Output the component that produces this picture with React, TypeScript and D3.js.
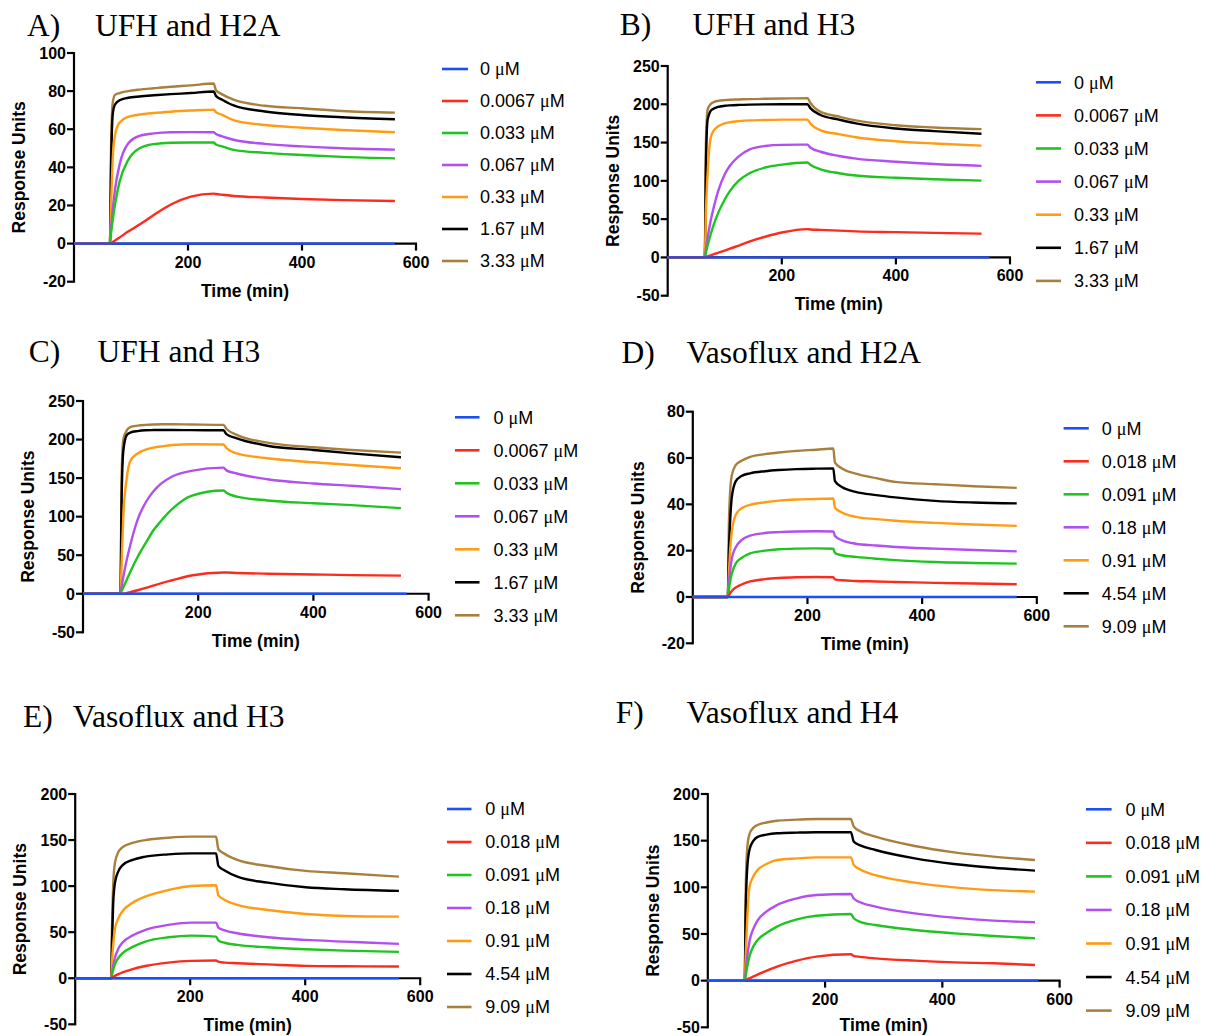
import React from "react";
import * as d3 from "d3";

// ---------- data ----------
const SERIES_COLORS = ["#1d4ef7", "#fc2b1c", "#1fc41f", "#b24ff0", "#ff9c14", "#000000", "#a8803e"];
const UFH_CONC = ["0", "0.0067", "0.033", "0.067", "0.33", "1.67", "3.33"];
const VASO_CONC = ["0", "0.018", "0.091", "0.18", "0.91", "4.54", "9.09"];
const X_TICKS = [200, 400, 600];

// series order in each *_CURVES: red, green, purple, orange, black, brown
const A_TIME = [0, 63, 65, 68, 72, 80, 95, 115, 140, 170, 205, 245, 249, 260, 280, 335, 400, 470, 563];
const A_CURVES = [
  [0, 0, 0.3, 0.8, 1.6, 3.2, 6.3, 10, 15, 20.5, 24.6, 26.2, 26, 25.6, 25, 24.2, 23.4, 22.8, 22.3],
  [0, 0, 5.5, 12.6, 20.6, 32.5, 43.8, 50, 52.2, 52.9, 53, 53, 52, 51, 49.2, 47.6, 46.5, 45.5, 44.7],
  [0, 0, 8, 18, 28.5, 41.5, 52.5, 56.5, 57.8, 58.4, 58.5, 58.4, 57.5, 56.3, 54.5, 52.3, 51, 50, 49.3],
  [0, 0, 20, 45, 57, 63.5, 66.5, 67.7, 68.5, 69.2, 69.8, 70.3, 69, 67.5, 64.8, 62.2, 60.8, 59.6, 58.4],
  [0, 0, 40, 68, 73, 75.2, 76.5, 77.2, 77.8, 78.4, 79, 79.8, 77.5, 75.5, 72.5, 69.3, 67.5, 66.3, 65.2],
  [0, 0, 50, 74, 78, 79, 80, 80.8, 81.5, 82.3, 83, 84, 80.5, 78.3, 75.5, 72.3, 71, 69.6, 68.7],
];
const A_BLANK_END = 563;
const A_Y_TICKS = [-20, 0, 20, 40, 60, 80, 100];

const B_TIME = [0, 65, 67, 70, 75, 81, 88, 100, 109, 125, 143, 171, 200, 245, 250, 268, 300, 330, 400, 467, 550];
const B_CURVES = [
  [0, 0, 0.5, 1.3, 2.6, 4.2, 6, 9, 11.5, 15.5, 20.5, 27, 32.5, 37, 36.5, 36, 35, 34, 33, 32, 31],
  [0, 0, 6.5, 15.6, 29.3, 43.5, 57.2, 75.7, 86.6, 100.6, 109.8, 117.4, 121.2, 124, 121, 115, 110, 107, 104, 102, 100.3],
  [0, 0, 10.7, 25.8, 46.9, 66.3, 85.5, 108.5, 119.7, 132.3, 140.9, 145.6, 147, 147.3, 143.5, 138, 132.5, 129, 125, 122, 119.6],
  [0, 0, 60, 110, 155, 166, 171, 175, 176.5, 178, 179, 179.5, 180, 180, 175, 166, 161, 157, 151.8, 148.8, 146],
  [0, 0, 120, 180, 191, 194.5, 196.5, 198, 198.6, 199.2, 199.6, 199.9, 200, 200, 195, 186, 180, 175, 168.4, 165, 161.5],
  [0, 0, 150, 193, 200, 203, 204.5, 205.5, 205.9, 206.3, 206.8, 207.2, 207.5, 208, 202, 190, 184, 179, 172.6, 169.7, 167.5],
];
const B_BLANK_END = 564;
const B_Y_TICKS = [-50, 0, 50, 100, 150, 200, 250];

const C_TIME = [0, 65, 67, 70, 76, 82, 95, 109, 122, 135, 155, 188, 244, 249, 267, 320, 400, 466, 552];
const C_CURVES = [
  [0, 0, 0, 0, 1, 2, 4.5, 7.5, 10.5, 13.5, 17.5, 23.7, 27.6, 27.5, 27, 26, 25, 24.2, 23.5],
  [0, 0, 3.4, 8.4, 18.3, 28.3, 48, 66, 82, 94, 110, 127, 134, 131, 126, 121, 117.4, 115, 111],
  [0, 0, 9.3, 22.2, 44.1, 63, 96.5, 118.7, 132.5, 142.5, 152.1, 159.4, 163.6, 160, 156, 148.5, 143, 140, 135.6],
  [0, 0, 40, 100, 150, 172, 182, 187, 189.5, 191, 193, 194, 193.5, 189, 182, 175.7, 170.5, 167, 162.8],
  [0, 0, 120, 185, 206, 209, 211, 212, 212.3, 212.4, 212.4, 212.2, 212, 207, 201.6, 192, 186.5, 182, 177],
  [0, 0, 150, 200, 212, 216, 218, 219, 219.5, 219.8, 219.8, 219.5, 219, 214, 206, 196, 190, 186.5, 183],
];
const C_BLANK_END = 562;
const C_Y_TICKS = [-50, 0, 50, 100, 150, 200, 250];

const D_TIME = [0, 61, 63, 65, 68, 75, 85, 100, 126, 150, 181, 215, 245, 248, 260, 284, 320, 353, 422, 490, 565];
const D_CURVES = [
  [0, 0, 0.7, 1.6, 2.6, 4.1, 5.4, 6.7, 7.7, 8.2, 8.5, 8.6, 8.5, 7.6, 7.2, 6.9, 6.7, 6.5, 6.1, 5.8, 5.5],
  [0, 0, 3.5, 6.5, 10, 14.5, 16.8, 18.8, 20, 20.6, 20.9, 21, 20.8, 19, 18, 17.3, 16.5, 15.9, 15.1, 14.7, 14.4],
  [0, 0, 6, 11, 16.5, 21.5, 24.5, 26.5, 27.6, 28, 28.3, 28.4, 28.3, 26.3, 24.5, 23, 22.2, 21.6, 20.9, 20.3, 19.7],
  [0, 0, 10, 20, 28, 35.5, 38.3, 39.8, 40.9, 41.6, 42.1, 42.3, 42.5, 38.5, 36.5, 34.6, 33.6, 32.9, 32, 31.3, 30.7],
  [0, 0, 20, 32, 43, 50, 52.2, 53.4, 54.3, 54.8, 55.2, 55.4, 55.5, 50, 47.5, 45.4, 44, 43, 41.5, 40.8, 40.4],
  [0, 0, 32, 45, 52.5, 57, 58.8, 60.5, 61.7, 62.4, 63.1, 63.6, 64.1, 58, 55.5, 53.3, 51.3, 49.7, 48.7, 47.8, 47.1],
];
const D_BLANK_END = 565;
const D_Y_TICKS = [-20, 0, 20, 40, 60, 80];

const E_TIME = [0, 62.5, 64, 66, 69, 75, 82, 100, 122, 162, 202, 245, 249, 260, 282, 335, 401, 468, 563];
const E_CURVES = [
  [0, 0, 0.5, 1.4, 2.6, 4.5, 6.3, 10, 13.3, 17, 18.8, 19.2, 18, 17, 16.3, 15, 13.4, 13, 12.7],
  [0, 0, 4, 9, 15, 22, 27, 34, 39.8, 44.5, 46.3, 45.2, 41, 38.5, 36.2, 33.6, 31.5, 30, 28.6],
  [0, 0, 6, 13, 22, 32, 38.5, 46.5, 52.4, 57.9, 60.4, 60.4, 55, 52, 48.8, 44.5, 41.6, 39.8, 37.3],
  [0, 0, 18, 36, 53, 65, 72.5, 82, 88.6, 95.8, 100.2, 101, 90, 85, 79.6, 74.1, 69.8, 67.6, 66.9],
  [0, 0, 40, 80, 103, 116, 122.5, 128.5, 132, 134.5, 135.6, 135.6, 122, 117, 110.3, 103.8, 98.7, 96.6, 94.8],
  [0, 0, 55, 100, 125, 137, 142, 147, 150, 152.5, 153.7, 153.7, 140, 135, 128.4, 121.9, 116.5, 114, 110.3],
];
const E_BLANK_END = 563;
const E_Y_TICKS = [-50, 0, 50, 100, 150, 200];

const F_TIME = [0, 63, 64.5, 67, 71, 78, 85, 100, 118, 152, 185, 244, 249, 260, 286, 353, 420, 487, 558];
const F_CURVES = [
  [0, 0, 0.5, 1.3, 2.5, 4.5, 6.5, 10.5, 15, 21.4, 25.7, 28.2, 26.5, 25.5, 23.9, 21.4, 19.6, 18.6, 16.8],
  [0, 0, 5, 14, 26, 37, 43.6, 51, 57.9, 65.7, 69.6, 71.4, 66.8, 63, 59.6, 54.3, 50.7, 47.9, 45.4],
  [0, 0, 9, 24, 42, 56, 64.5, 74, 81, 88.2, 91.8, 92.9, 88, 84, 79.3, 72.1, 67.5, 64.3, 62.5],
  [0, 0, 25, 62, 100, 112, 118.5, 125, 129.3, 131, 132.1, 132.1, 124, 119, 113, 105, 100, 97, 95.4],
  [0, 0, 70, 118, 140, 150, 154, 156.5, 157.9, 158.6, 159, 159, 149, 145, 140, 131, 125, 121, 117.9],
  [0, 0, 90, 140, 157, 164, 166.8, 169.5, 171.4, 172.5, 173.2, 173.2, 165, 160, 154.3, 144.3, 137.5, 132.9, 129.3],
];
const F_BLANK_END = 564;
const F_Y_TICKS = [-50, 0, 50, 100, 150, 200];

// ---------- layout (positions only) ----------
const PANELS = [
  { letter: "A)", title: "UFH and H2A", conc: UFH_CONC, time: A_TIME, curves: A_CURVES, blankEnd: A_BLANK_END, yTicks: A_Y_TICKS,
    letterX: 27, titleX: 95, titleY: 36, x0: 74, x1: 416, yTop: 53, yBot: 281.7,
    legLine: [442, 468], legText: 480, legY0: 69, legStep: 32 },
  { letter: "B)", title: "UFH and H3", conc: UFH_CONC, time: B_TIME, curves: B_CURVES, blankEnd: B_BLANK_END, yTicks: B_Y_TICKS,
    letterX: 619.7, titleX: 692.5, titleY: 35, x0: 667.7, x1: 1010, yTop: 66, yBot: 295.7,
    legLine: [1036, 1061], legText: 1074, legY0: 82.3, legStep: 33.1 },
  { letter: "C)", title: "UFH and H3", conc: UFH_CONC, time: C_TIME, curves: C_CURVES, blankEnd: C_BLANK_END, yTicks: C_Y_TICKS,
    letterX: 28.7, titleX: 97.6, titleY: 361.7, x0: 83, x1: 428.6, yTop: 401, yBot: 632.3,
    legLine: [455, 479.5], legText: 493.5, legY0: 417.3, legStep: 33 },
  { letter: "D)", title: "Vasoflux and H2A", conc: VASO_CONC, time: D_TIME, curves: D_CURVES, blankEnd: D_BLANK_END, yTicks: D_Y_TICKS,
    letterX: 621.6, titleX: 686.6, titleY: 363.3, x0: 692.8, x1: 1036.8, yTop: 411.7, yBot: 643.3,
    legLine: [1063.6, 1088.8], legText: 1101.8, legY0: 428.3, legStep: 33 },
  { letter: "E)", title: "Vasoflux and H3", conc: VASO_CONC, time: E_TIME, curves: E_CURVES, blankEnd: E_BLANK_END, yTicks: E_Y_TICKS,
    letterX: 23, titleX: 72.7, titleY: 726.7, x0: 75.2, x1: 420.2, yTop: 794, yBot: 1024.3,
    legLine: [447, 471.5], legText: 485.3, legY0: 809, legStep: 33 },
  { letter: "F)", title: "Vasoflux and H4", conc: VASO_CONC, time: F_TIME, curves: F_CURVES, blankEnd: F_BLANK_END, yTicks: F_Y_TICKS,
    letterX: 615.7, titleX: 686.6, titleY: 723.3, x0: 707.8, x1: 1059.6, yTop: 794, yBot: 1027.3,
    legLine: [1086, 1111.6], legText: 1125.4, legY0: 809.3, legStep: 33.55 },
];

const SANS = "Arial, 'Liberation Sans', Helvetica, sans-serif";
const SERIF = "'Times New Roman', 'Liberation Serif', serif";

function Panel({ p }: { p: (typeof PANELS)[number] }) {
  const yMin = p.yTicks[0];
  const yMax = p.yTicks[p.yTicks.length - 1];
  const x = d3.scaleLinear().domain([0, 600]).range([p.x0, p.x1]);
  const y = d3.scaleLinear().domain([yMin, yMax]).range([p.yBot, p.yTop]);
  const line = d3
    .line<[number, number]>()
    .x((d) => x(d[0]))
    .y((d) => y(d[1]))
    .curve(d3.curveMonotoneX);
  const zeroY = y(0);
  const midY = (p.yTop + p.yBot) / 2;
  const axisX = p.x0;
  const timeLabelY = Math.min(zeroY + 53, 1031);

  // draw order: brown (top conc) first ... blue last
  const seriesIdx = [5, 4, 3, 2, 1, 0];

  return (
    <g>
      <text x={p.letterX} y={p.titleY} fontFamily={SERIF} fontSize={31.5} fill="#000">{p.letter}</text>
      <text x={p.titleX} y={p.titleY} fontFamily={SERIF} fontSize={31.5} fill="#000">{p.title}</text>

      {/* y axis */}
      <line x1={axisX} x2={axisX} y1={p.yTop - 1} y2={p.yBot + 1} stroke="#000" strokeWidth={2.2} />
      {p.yTicks.map((t) => (
        <g key={"yt" + t}>
          <line x1={axisX - 7} x2={axisX} y1={y(t)} y2={y(t)} stroke="#000" strokeWidth={2.2} />
          <text x={axisX - 8} y={y(t)} dy="0.36em" textAnchor="end" fontFamily={SANS} fontWeight="bold" fontSize={16} fill="#000">
            {t}
          </text>
        </g>
      ))}
      {/* x axis at y=0 */}
      <line x1={axisX} x2={x(600) + 1} y1={zeroY} y2={zeroY} stroke="#000" strokeWidth={2.2} />
      {X_TICKS.map((t) => (
        <g key={"xt" + t}>
          <line x1={x(t)} x2={x(t)} y1={zeroY} y2={zeroY + 7} stroke="#000" strokeWidth={2.2} />
          <text x={x(t)} y={zeroY + 24} textAnchor="middle" fontFamily={SANS} fontWeight="bold" fontSize={16} fill="#000">
            {t}
          </text>
        </g>
      ))}
      <text x={(p.x0 + p.x1) / 2} y={timeLabelY} textAnchor="middle" fontFamily={SANS} fontWeight="bold" fontSize={17.5} fill="#000">
        Time (min)
      </text>
      <text
        transform={`translate(${axisX - 55},${midY}) rotate(-90)`}
        dy="0.35em"
        textAnchor="middle"
        fontFamily={SANS}
        fontWeight="bold"
        fontSize={17.5}
        fill="#000"
      >
        Response Units
      </text>

      {/* curves */}
      {seriesIdx.map((i) => {
        const pts: [number, number][] = p.time.map((t, k) => [t, p.curves[i][k]]);
        return (
          <path key={"c" + i} d={line(pts) || ""} fill="none" stroke={SERIES_COLORS[i + 1]} strokeWidth={2.4} strokeLinejoin="round" />
        );
      })}
      <path
        d={line([[0, 0], [p.blankEnd, 0]]) || ""}
        fill="none"
        stroke={SERIES_COLORS[0]}
        strokeWidth={2.4}
      />

      {/* legend */}
      {p.conc.map((c, i) => {
        const ly = p.legY0 + i * p.legStep;
        return (
          <g key={"lg" + i}>
            <line x1={p.legLine[0]} x2={p.legLine[1]} y1={ly} y2={ly} stroke={SERIES_COLORS[i]} strokeWidth={2.6} />
            <text x={p.legText} y={ly} dy="0.36em" fontFamily={SANS} fontSize={18} fill="#000">
              {c + " "}
              <tspan fontFamily={SERIF}>μ</tspan>M
            </text>
          </g>
        );
      })}
    </g>
  );
}

export default function App() {
  return (
    <svg
      width={1217}
      height={1036}
      viewBox="0 0 1217 1036"
      style={{ position: "absolute", left: 0, top: 0, background: "#fff" }}
    >
      <rect x={0} y={0} width={1217} height={1036} fill="#fff" />
      {PANELS.map((p) => (
        <Panel key={p.letter} p={p} />
      ))}
    </svg>
  );
}
